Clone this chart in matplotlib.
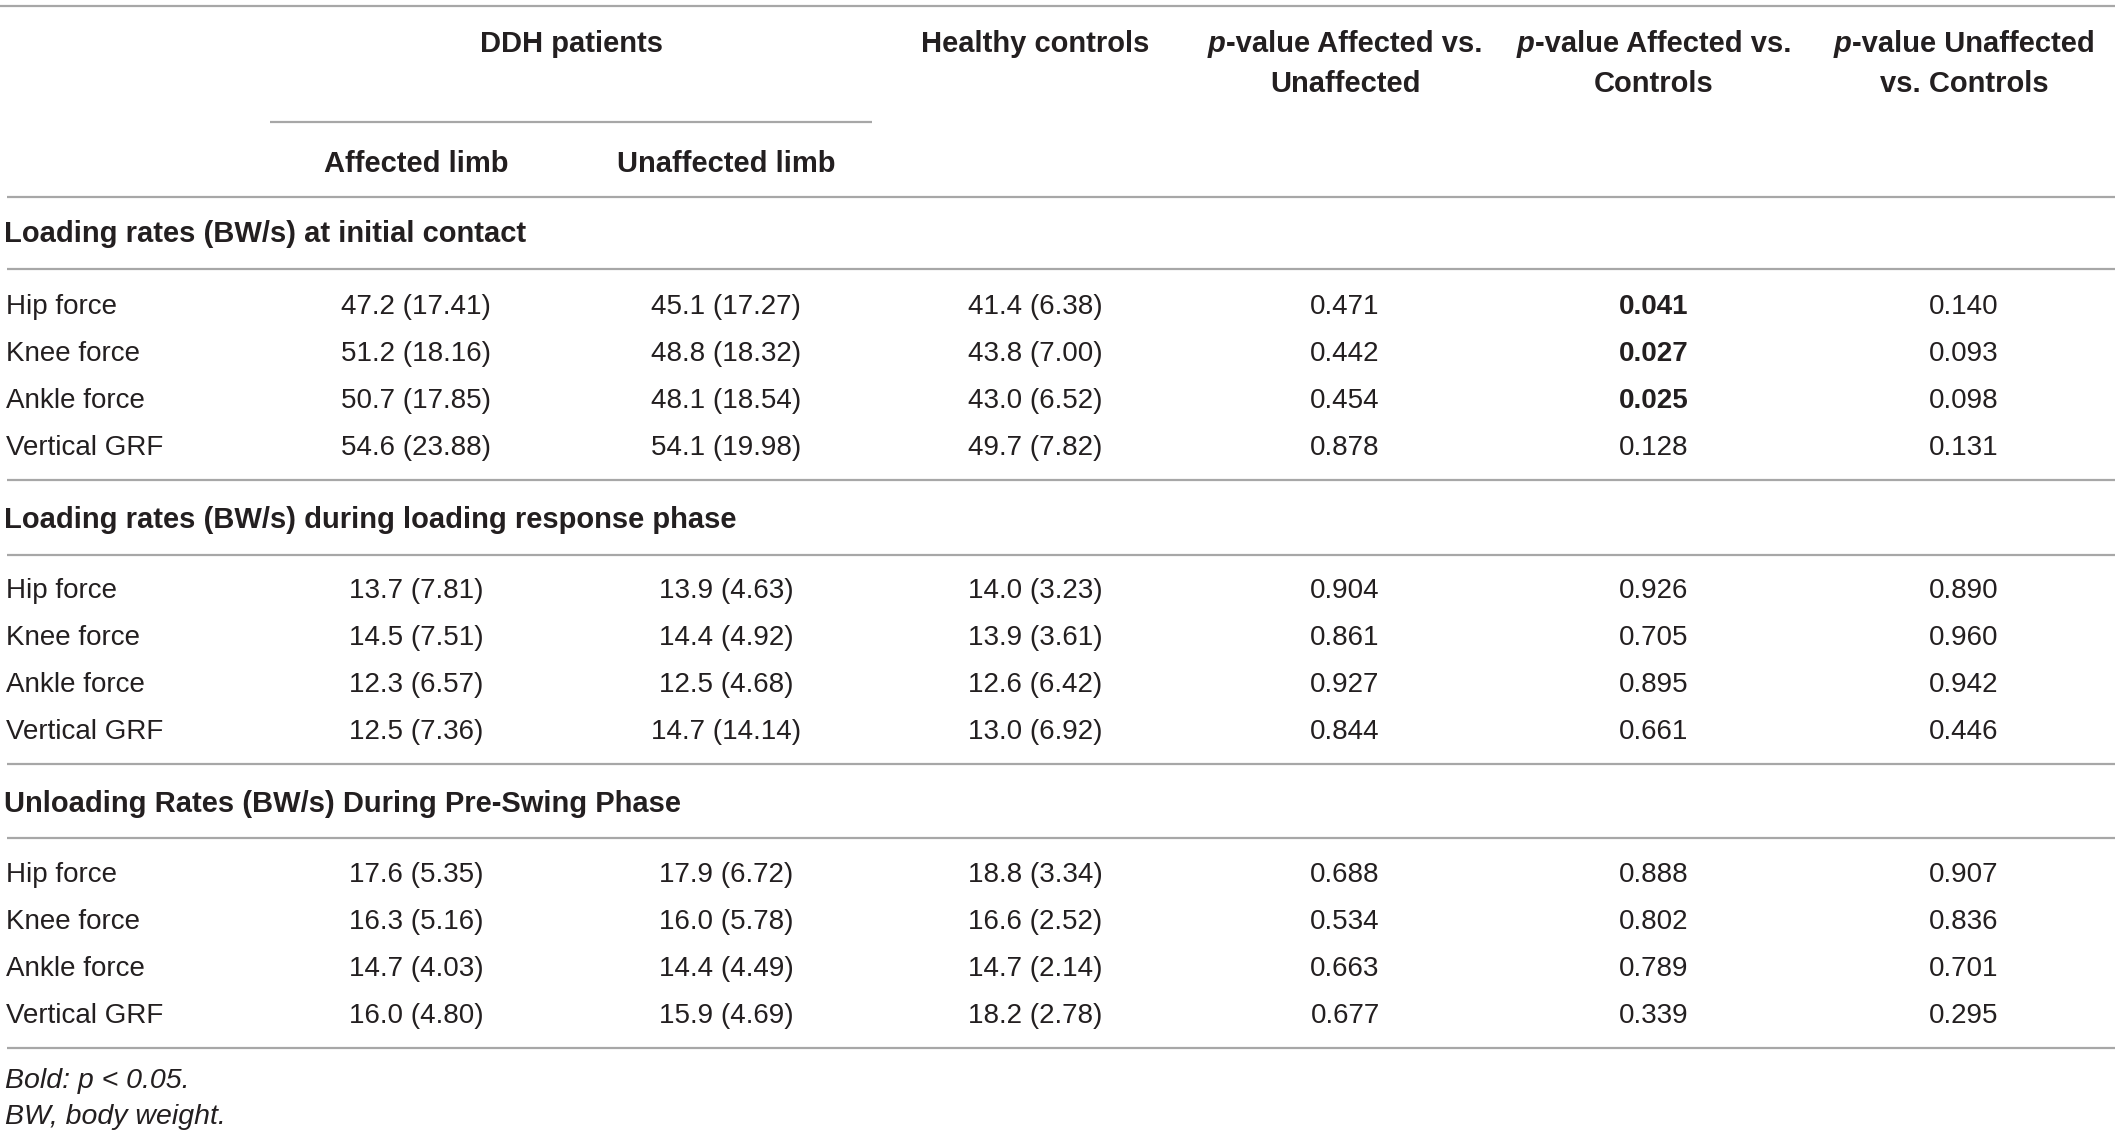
import matplotlib
matplotlib.use("Agg")
import matplotlib.pyplot as plt

# --- data ---
sections = ["Loading rates (BW/s) at initial contact",
            "Loading rates (BW/s) during loading response phase",
            "Unloading Rates (BW/s) During Pre-Swing Phase"]
variables = ["Hip force", "Knee force", "Ankle force", "Vertical GRF"]

affected_mean = [47.2, 51.2, 50.7, 54.6, 13.7, 14.5, 12.3, 12.5, 17.6, 16.3, 14.7, 16.0]
affected_sd = [17.41, 18.16, 17.85, 23.88, 7.81, 7.51, 6.57, 7.36, 5.35, 5.16, 4.03, 4.80]
unaffected_mean = [45.1, 48.8, 48.1, 54.1, 13.9, 14.4, 12.5, 14.7, 17.9, 16.0, 14.4, 15.9]
unaffected_sd = [17.27, 18.32, 18.54, 19.98, 4.63, 4.92, 4.68, 14.14, 6.72, 5.78, 4.49, 4.69]
control_mean = [41.4, 43.8, 43.0, 49.7, 14.0, 13.9, 12.6, 13.0, 18.8, 16.6, 14.7, 18.2]
control_sd = [6.38, 7.00, 6.52, 7.82, 3.23, 3.61, 6.42, 6.92, 3.34, 2.52, 2.14, 2.78]
p_aff_unaff = [0.471, 0.442, 0.454, 0.878, 0.904, 0.861, 0.927, 0.844, 0.688, 0.534, 0.663, 0.677]
p_aff_ctrl = [0.041, 0.027, 0.025, 0.128, 0.926, 0.705, 0.895, 0.661, 0.888, 0.802, 0.789, 0.339]
p_unaff_ctrl = [0.140, 0.093, 0.098, 0.131, 0.890, 0.960, 0.942, 0.446, 0.907, 0.836, 0.701, 0.295]

footnotes = ["Bold: p < 0.05.", "BW, body weight."]

# --- layout (pixel units) ---
W, H = 2119, 1137
plt.rcParams['font.family'] = ['Liberation Sans', 'DejaVu Sans']
txt = "#231f20"
rule = "#a7a7a7"
fs = 20      # body
fsh = 21     # bold headings
dy = 2.5     # small downward nudge for text

fig = plt.figure(figsize=(W / 100, H / 100), dpi=100)
ax = fig.add_axes([0, 0, 1, 1])
ax.set_xlim(0, W)
ax.set_ylim(H, 0)
ax.axis("off")

col_x = [416, 726, 1035, 1345, 1654, 1964]
x0, x1 = 7, 2115


def hline(y, xa=x0, xb=x1):
    ax.plot([xa, xb], [y, y], color=rule, lw=1.6, solid_capstyle="butt")


hline(5.5, 0, x1)
hline(122, 270, 872)
hline(197)

ax.text(572, 41 + dy, "DDH patients", ha="center", va="center", fontsize=fsh, fontweight="bold", color=txt)
ax.text(col_x[2], 41 + dy, "Healthy controls", ha="center", va="center", fontsize=fsh, fontweight="bold", color=txt)
ax.text(col_x[0], 162 + dy, "Affected limb", ha="center", va="center", fontsize=fsh, fontweight="bold", color=txt)
ax.text(col_x[1], 162 + dy, "Unaffected limb", ha="center", va="center", fontsize=fsh, fontweight="bold", color=txt)

p_heads = [("-value Affected vs.", "Unaffected"),
           ("-value Affected vs.", "Controls"),
           ("-value Unaffected", "vs. Controls")]
fig.canvas.draw()
rend = fig.canvas.get_renderer()
for cx, (l1, l2) in zip(col_x[3:], p_heads):
    tp = ax.text(0, 41 + dy, "p", ha="left", va="center", fontsize=fsh, fontstyle="italic", fontweight="bold", color=txt)
    tr = ax.text(0, 41 + dy, l1, ha="left", va="center", fontsize=fsh, fontweight="bold", color=txt)
    wp = tp.get_window_extent(rend).width
    wr = tr.get_window_extent(rend).width
    left = cx - (wp + wr) / 2
    tp.set_x(left)
    tr.set_x(left + wp)
    ax.text(cx, 81 + dy, l2, ha="center", va="center", fontsize=fsh, fontweight="bold", color=txt)

sec_y = [232, 518, 801]
row_y0 = [304, 588, 872]
step = 47.1
for s, name in enumerate(sections):
    ax.text(x0 - 3, sec_y[s] + dy, name, ha="left", va="center", fontsize=fsh, fontweight="bold", color=txt)
    hline(sec_y[s] + 37)
    for r, var in enumerate(variables):
        i = s * 4 + r
        y = row_y0[s] + r * step + dy
        ax.text(x0 - 1, y, var, ha="left", va="center", fontsize=fs, color=txt)
        cells = [f"{affected_mean[i]:.1f} ({affected_sd[i]:.2f})",
                 f"{unaffected_mean[i]:.1f} ({unaffected_sd[i]:.2f})",
                 f"{control_mean[i]:.1f} ({control_sd[i]:.2f})"]
        for cx, c in zip(col_x[:3], cells):
            ax.text(cx, y, c, ha="center", va="center", fontsize=fs, color=txt)
        for cx, p in zip(col_x[3:], [p_aff_unaff[i], p_aff_ctrl[i], p_unaff_ctrl[i]]):
            ax.text(cx, y, f"{p:.3f}", ha="center", va="center", fontsize=fs, color=txt,
                    fontweight="bold" if p < 0.05 else "normal")
    hline(row_y0[s] + 3 * step + 35)

ax.text(x0 - 2, 1078 + dy, footnotes[0], ha="left", va="center", fontsize=20.5, fontstyle="italic", color=txt)
ax.text(x0 - 2, 1115 + dy, footnotes[1], ha="left", va="center", fontsize=20.5, fontstyle="italic", color=txt)

fig.savefig("out.png", dpi=100)
